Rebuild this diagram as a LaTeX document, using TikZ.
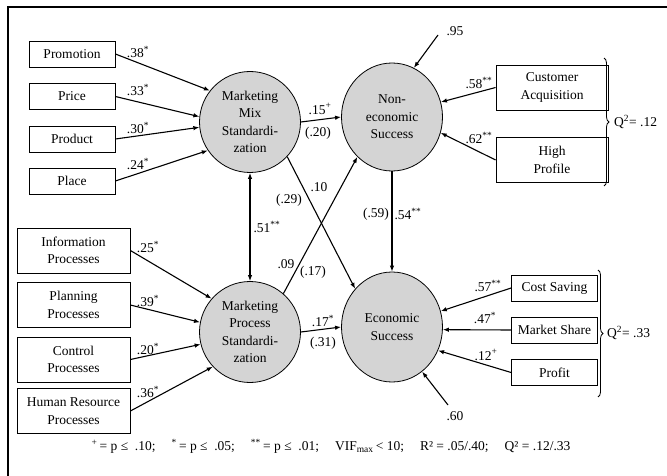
\documentclass[tikz,border=0pt]{standalone}
\usepackage{fontspec}
\setmainfont{Liberation Serif}
\usetikzlibrary{arrows.meta,shapes.geometric,decorations.pathreplacing}
\definecolor{Latent}{gray}{0.83}

\begin{document}
\begin{tikzpicture}[x=1pt,y=-1pt,
  every node/.style={font=\fontsize{13.5}{17.5}\selectfont},
  ind/.style={draw,line width=0.8pt,minimum width=86pt,minimum height=26pt,
    inner sep=0pt,align=center},
  indw/.style={ind,minimum width=113pt,minimum height=45pt},
  lv/.style={ellipse,draw,line width=0.8pt,fill=Latent,minimum width=101pt,
    minimum height=101pt,inner sep=0pt,align=center},
  link/.style={-{Latex[length=6pt,width=4.5pt]},line width=1.1pt},
  coef/.style={inner sep=0pt},
  brc/.style={decorate,decoration={brace,amplitude=5pt},line width=0.8pt}]
  \useasboundingbox (0,0) rectangle (667,476);
  \draw[line width=2.5pt] (8,476) -- (8,7) -- (667,7);

  % constructs
  \node[lv] (mms) at (250,122) {Marketing\\Mix\\Standardi-\\zation};
  \node[lv] (mps) at (250,332) {Marketing\\Process\\Standardi-\\zation};
  \node[lv,minimum height=108pt] (nes) at (392,117) {Non-\\economic\\Success};
  \node[lv,minimum height=110pt] (es) at (392,327) {Economic\\Success};

  % indicators
  \node[ind] (promo) at (72,54) {Promotion};
  \node[ind] (price) at (72,96.5) {Price};
  \node[ind] (prod) at (72,139) {Product};
  \node[ind] (place) at (72,181) {Place};
  \node[indw] (info) at (73.5,250.5) {Information\\Processes};
  \node[indw] (plan) at (73.5,305) {Planning\\Processes};
  \node[indw] (ctrl) at (73.5,359.5) {Control\\Processes};
  \node[indw] (hr) at (73.5,411) {Human Resource\\Processes};
  \node[indw,minimum width=112pt] (cust) at (552,87.5) {Customer\\Acquisition};
  \node[indw,minimum width=112pt] (prof) at (552,160) {High\\Profile};
  \node[ind] (cost) at (554.5,288) {Cost Saving};
  \node[ind] (share) at (554.5,330) {Market Share};
  \node[ind] (profit) at (554.5,372.5) {Profit};

  \coordinate (e1) at (438,35);
  \coordinate (e2) at (448,405);

  % paths
  \draw[link] (promo.east) -- (mms.142);
  \draw[link] (price.east) -- (mms.174);
  \draw[link] (prod.east) -- (mms.186);
  \draw[link] (place.east) -- (mms.214);
  \draw[link] (info.east) -- (mps.139);
  \draw[link] (plan.east) -- (mps.169);
  \draw[link] (ctrl.east) -- (mps.194);
  \draw[link] (hr.east) -- (mps.223);
  \draw[link] (mms.east) -- (nes.west);
  \draw[link] (mps.east) -- (es.west);
  \draw[link] (mms.317) -- (es.134);
  \draw[link] (mps.49) -- (nes.229);
  \draw[link,{Latex[length=6pt,width=4.5pt]}-{Latex[length=6pt,width=4.5pt]}] (mms.south) -- (mps.north);
  \draw[link] (nes.south) -- (es.north);
  \draw[link] (cust.west) -- (nes.17);
  \draw[link] (prof.west) -- (nes.342);
  \draw[link] (cost.west) -- (es.18);
  \draw[link] (share.west) -- (es.357);
  \draw[link] (profit.west) -- (es.333);
  \draw[link] (e1) -- (nes.66);
  \draw[link] (e2) -- (es.304);

  % coefficients
  \node[coef] (c1) at (138,52) {.38\textsuperscript{*}};
  \node[coef] (c2) at (138,90) {.33\textsuperscript{*}};
  \node[coef] (c3) at (138,128) {.30\textsuperscript{*}};
  \node[coef] (c4) at (138,164) {.24\textsuperscript{*}};
  \node[coef] (c5) at (148,247) {.25\textsuperscript{*}};
  \node[coef] (c6) at (148,301) {.39\textsuperscript{*}};
  \node[coef] (c7) at (148,349) {.20\textsuperscript{*}};
  \node[coef] (c8) at (148,392) {.36\textsuperscript{*}};
  \node[coef] (c9) at (320,109) {.15\textsuperscript{+}};
  \node[coef] (c10) at (318,133) {(.20)};
  \node[coef] (c11) at (319,187) {.10};
  \node[coef] (c12) at (289,200) {(.29)};
  \node[coef] (c13) at (267,227) {.51\textsuperscript{**}};
  \node[coef] (c14) at (286,264) {.09};
  \node[coef] (c15) at (313,272) {(.17)};
  \node[coef] (c16) at (323,321) {.17\textsuperscript{*}};
  \node[coef] (c17) at (323,343) {(.31)};
  \node[coef] (c18) at (376,214) {(.59)};
  \node[coef] (c19) at (408,214) {.54\textsuperscript{**}};
  \node[coef] (c20) at (455,31) {.95};
  \node[coef] (c21) at (479,83) {.58\textsuperscript{**}};
  \node[coef] (c22) at (479,138) {.62\textsuperscript{**}};
  \node[coef] (c23) at (488,286) {.57\textsuperscript{**}};
  \node[coef] (c24) at (485,318) {.47\textsuperscript{*}};
  \node[coef] (c25) at (486,355) {.12\textsuperscript{+}};
  \node[coef] (c26) at (455,416) {.60};

  % quality
  \draw[brc] (604,58) -- (604,186);
  \node[coef,anchor=west] (q1) at (614,122) {Q\textsuperscript{2}= .12};
  \draw[brc] (598,270) -- (598,397);
  \node[coef,anchor=west] (q2) at (607,333) {Q\textsuperscript{2}= .33};

  \node[coef] (note) at (331,446)
    {\textsuperscript{+}\,= p ≤\ \ .10;\hspace{16pt}\textsuperscript{*}\,= p ≤\ \ .05;\hspace{16pt}%
     \textsuperscript{**}\,= p ≤\ \ .01;\hspace{16pt}VIF\textsubscript{max}\,< 10;\hspace{16pt}%
     R² = .05/.40;\hspace{16pt}Q² = .12/.33};
\end{tikzpicture}
\end{document}
